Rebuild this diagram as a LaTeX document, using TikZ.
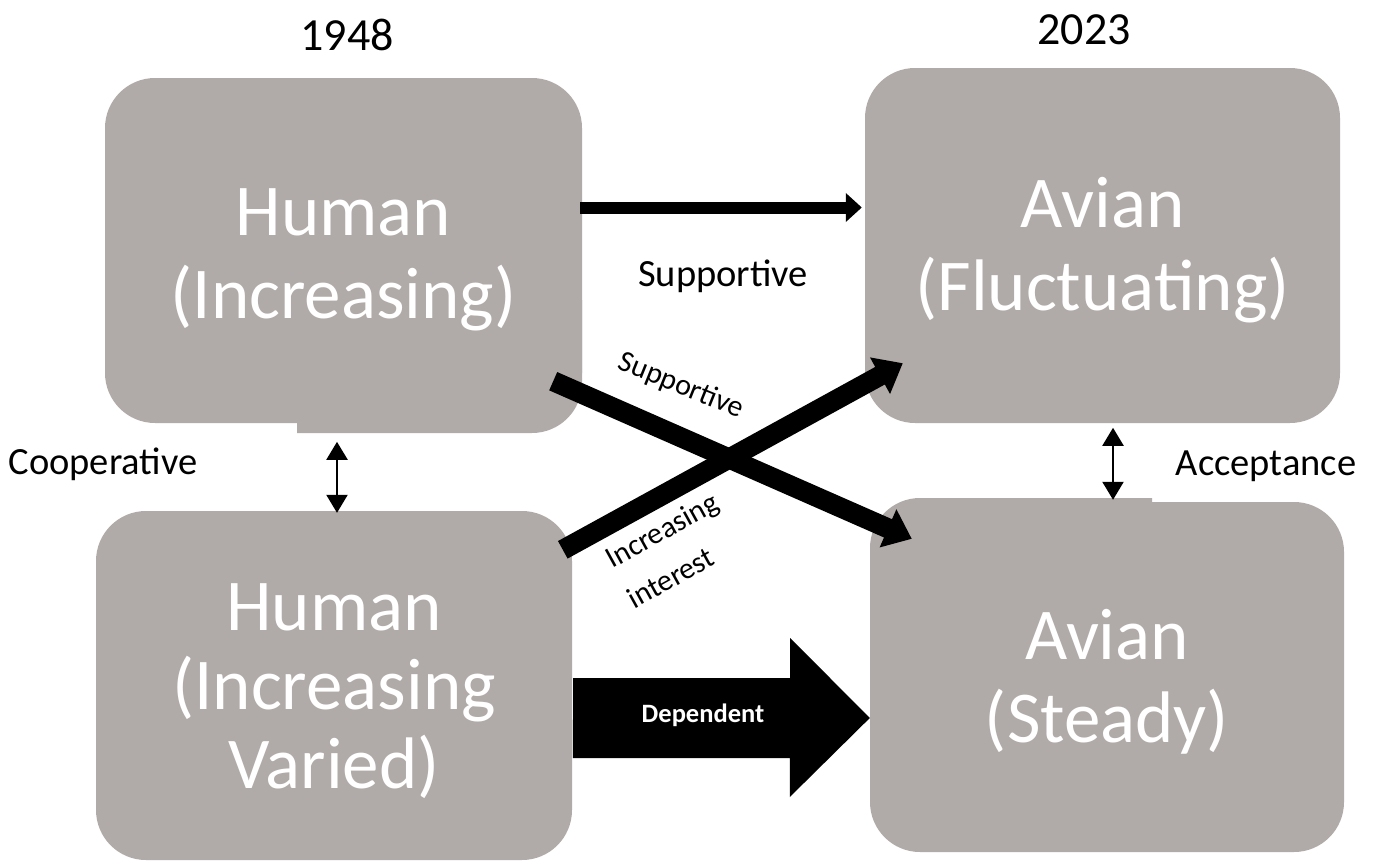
\documentclass[tikz,border=0pt]{standalone}
\usepackage{fontspec}
\setmainfont{Carlito}
\usetikzlibrary{arrows.meta,calc}
\definecolor{boxgray}{RGB}{176,171,168}
\tikzset{
  box/.style={fill=boxgray, rounded corners=50pt, inner sep=0pt},
  boxtext/.style={inner sep=0pt, text=white, align=center, font=\fontsize{73}{83}\selectfont},
  lbl/.style={inner sep=0pt, font=\fontsize{38.5}{46}\selectfont},
  rlbl/.style={inner sep=0pt, font=\fontsize{30}{46}\selectfont},
  thinarrow/.style={line width=12pt, -{Triangle[width=28pt,length=16pt]}},
  fatarrow/.style={line width=20pt, -{Triangle[width=40pt,length=26pt]}},
  dbl/.style={line width=2.2pt, {Triangle[width=21pt,length=18pt]}-{Triangle[width=21pt,length=18pt]}},
}
\begin{document}
\begin{tikzpicture}[x=1pt,y=-1pt]
\useasboundingbox (0,0) rectangle (1373,862);
% extra box pieces (steps in the box outlines)
\begin{scope}
  \clip (297,300) rectangle (600,440);
  \fill[boxgray, rounded corners=50pt] (105,78) rectangle (582,433);
\end{scope}
\begin{scope}
  \clip (860,490) rectangle (1152,600);
  \fill[boxgray, rounded corners=50pt] (870,498) rectangle (1344,852);
\end{scope}
% boxes
\node[box, minimum width=477pt, minimum height=345pt,
  label={[boxtext, yshift=-9pt]center:{Human\\(Increasing)}}] (tl) at (343.5,250.5) {};
\node[box, minimum width=475pt, minimum height=355pt,
  label={[boxtext, yshift=-5pt]center:{Avian\\(Fluctuating)}}] (tr) at (1102.5,245.5) {};
\node[box, minimum width=476pt, minimum height=349pt,
  label={[boxtext, yshift=-6pt, font=\fontsize{73}{79}\selectfont]center:{Human\\(Increasing\\Varied)}}] (bl) at (334,685.5) {};
\node[box, minimum width=474pt, minimum height=350pt,
  label={[boxtext, yshift=-5pt]center:{Avian\\(Steady)}}] (br) at (1107,677) {};
% year labels
\node[inner sep=0pt, font=\fontsize{46}{50}\selectfont] (y1) at (347,35) {1948};
\node[inner sep=0pt, font=\fontsize{46}{50}\selectfont] (y2) at (1084,30) {2023};
% top arrow
\draw[thinarrow] ($(tl.east)+(-2,-43)$) -- ($(tr.west)+(-3,-38)$);
\node[lbl] (sup1) at (723,276) {Supportive};
% cross arrows
\draw[fatarrow] ($(tl.south east)+(-29,-42)$) -- ($(br.north west)+(42,37)$);
\draw[fatarrow] ($(bl.north west)+(467,39)$) -- ($(tr.south west)+(38,-60)$);
\node[rlbl, rotate=-22] (sup2) at (681,386) {Supportive};
\node[rlbl, rotate=29, align=left] (inc) at (673,550) {Increasing\\interest};
% dependent block arrow
\fill ($(bl.east)+(1,-7.5)$) -- ++(217,0) -- ++(0,-40) -- ($(br.west)+(0,41)$) -- ++(-80,79) -- ++(0,-39) -- ++(-217,0) -- cycle;
\node[inner sep=0pt, text=white, font=\bfseries\fontsize{26.5}{30}\selectfont] (dep) at (703,715) {Dependent};
% double arrows
\draw[dbl] ($(bl.north)+(3,-69)$) -- ($(bl.north)+(3,2)$);
\node[lbl] (coop) at (103,464) {Cooperative};
\draw[dbl] ($(br.north)+(6,-74)$) -- ($(br.north)+(6,-2)$);
\node[lbl] (acc) at (1266,466) {Acceptance};
\end{tikzpicture}
\end{document}
